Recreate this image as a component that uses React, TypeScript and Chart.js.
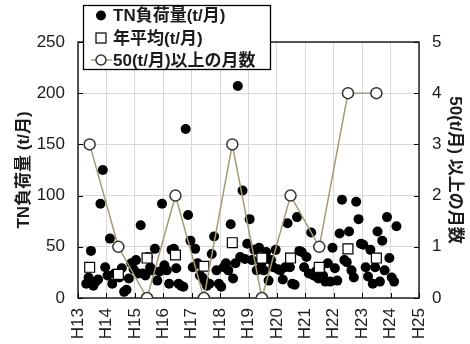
import React, { useEffect, useRef } from 'react';
import { Chart, registerables } from 'chart.js';

Chart.register(...registerables);

// ---- data ----
const fiscalYears = [13, 14, 15, 16, 17, 18, 19, 20, 21, 22, 23];
const monthIndex = [0, 1, 2, 3, 4, 5, 6, 7, 8, 9, 10, 11]; // Apr .. Mar

// monthly TN load (t/month), April..March of each fiscal year
const tnH13 = [14, 20, 46, 12, 16, 18, 92, 125, 30, 22, 58, 14];
const tnH14 = [24, 22, 20, 29, 6, 8, 19, 34, 28, 37, 24, 71];
const tnH15 = [24, 22, 40, 30, 27, 48, 17, 26, 92, 32, 27, 14];
const tnH16 = [47, 48, 29, 14, 12, 11, 165, 81, 56, 30, 48, 34];
const tnH17 = [22, 20, 17, 12, 14, 43, 60, 27, 14, 11, 30, 34];
const tnH18 = [27, 72, 19, 34, 207, 40, 105, 38, 53, 77, 37, 47];
const tnH19 = [27, 49, 34, 27, 45, 17, 37, 30, 47, 28, 27, 18];
const tnH20 = [30, 73, 30, 14, 13, 79, 46, 45, 30, 40, 24, 64];
const tnH21 = [22, 26, 19, 30, 22, 16, 34, 16, 49, 29, 17, 63];
const tnH22 = [96, 37, 35, 65, 27, 20, 94, 77, 53, 52, 30, 21];
const tnH23 = [47, 14, 30, 65, 16, 56, 27, 79, 39, 20, 16, 70];
const monthlyByYear = [tnH13, tnH14, tnH15, tnH16, tnH17, tnH18, tnH19, tnH20, tnH21, tnH22, tnH23];

// annual series
const annualX = [13.41, 14.42, 15.43, 16.43, 17.43, 18.43, 19.47, 20.48, 21.49, 22.5, 23.5];
const annualAvg = [30, 23, 39, 42, 31, 54, 39, 39, 30, 48, 39];
const monthsOver50 = [3, 1, 0, 2, 0, 3, 0, 2, 1, 4, 4];

// axis ticks
const xTickValues = [13, 14, 15, 16, 17, 18, 19, 20, 21, 22, 23, 24, 25];
const xTickLabels = ['H13', 'H14', 'H15', 'H16', 'H17', 'H18', 'H19', 'H20', 'H21', 'H22', 'H23', 'H24', 'H25'];

const legendLabels = ['TN負荷量(t/月)', '年平均(t/月)', '50(t/月)以上の月数'];
const leftTitle = 'TN負荷量 (t/月)';
const rightTitle = '50(t/月) 以上の月数';

const LATIN = "'Liberation Sans', Arial, 'Noto Sans CJK JP', sans-serif";
const TEXT = '#1c1c1c';
const LINE_COLOR = '#a39c72';

const framePlugin = {
  id: 'frame',
  beforeDatasetsDraw(chart: any) {
    const { ctx, chartArea } = chart;
    const { left, right, top, bottom } = chartArea;
    ctx.save();
    ctx.strokeStyle = '#000';
    ctx.lineWidth = 1.3;
    ctx.strokeRect(left, top, right - left, bottom - top);
    ctx.lineWidth = 1;
    const y = chart.scales.y;
    const y2 = chart.scales.y2;
    const x = chart.scales.x;
    ctx.beginPath();
    y.ticks.forEach((t: any) => {
      const p = Math.round(y.getPixelForValue(t.value)) + 0.5;
      ctx.moveTo(left, p); ctx.lineTo(left + 5, p);
    });
    y2.ticks.forEach((t: any) => {
      const p = Math.round(y2.getPixelForValue(t.value)) + 0.5;
      ctx.moveTo(right - 5, p); ctx.lineTo(right, p);
    });
    x.ticks.forEach((t: any) => {
      const p = Math.round(x.getPixelForValue(t.value)) + 0.5;
      ctx.moveTo(p, bottom); ctx.lineTo(p, bottom - 5);
    });
    ctx.stroke();
    ctx.restore();
  },
};

const legendPlugin = {
  id: 'boxLegend',
  afterDraw(chart: any) {
    const { ctx } = chart;
    ctx.save();
    const bx = 83.5, by = 5.5, bw = 187, bh = 64;
    ctx.fillStyle = '#fff';
    ctx.fillRect(bx, by, bw, bh);
    ctx.strokeStyle = '#000';
    ctx.lineWidth = 1.3;
    ctx.strokeRect(bx, by, bw, bh);
    const rows = [15.5, 38, 60];
    const mx = 101;
    // filled circle
    ctx.fillStyle = '#000';
    ctx.beginPath(); ctx.arc(mx, rows[0], 5, 0, Math.PI * 2); ctx.fill();
    // square
    ctx.fillStyle = '#fff'; ctx.strokeStyle = '#000'; ctx.lineWidth = 1.2;
    ctx.fillRect(mx - 5, rows[1] - 5, 10, 10);
    ctx.strokeRect(mx - 5, rows[1] - 5, 10, 10);
    // line + open circle
    ctx.strokeStyle = LINE_COLOR; ctx.lineWidth = 1.5;
    ctx.beginPath(); ctx.moveTo(91, rows[2]); ctx.lineTo(112, rows[2]); ctx.stroke();
    ctx.fillStyle = '#fff'; ctx.strokeStyle = '#333'; ctx.lineWidth = 1.5;
    ctx.beginPath(); ctx.arc(mx, rows[2], 5, 0, Math.PI * 2); ctx.fill(); ctx.stroke();
    // texts
    ctx.fillStyle = TEXT;
    ctx.font = `bold 17px ${LATIN}`;
    ctx.textBaseline = 'middle';
    ctx.textAlign = 'left';
    legendLabels.forEach((t, i) => ctx.fillText(t, 113, rows[i] + 1));
    ctx.restore();
  },
};

export default function App() {
  const ref = useRef<HTMLCanvasElement>(null);

  useEffect(() => {
    if (!ref.current) return;
    const monthlyPoints: { x: number; y: number }[] = [];
    fiscalYears.forEach((fy, i) => {
      monthIndex.forEach((m) => {
        monthlyPoints.push({ x: fy + 0.29 + m / 12, y: monthlyByYear[i][m] });
      });
    });
    const avgPoints = annualX.map((x, i) => ({ x, y: annualAvg[i] }));
    const countPoints = annualX.map((x, i) => ({ x, y: monthsOver50[i] }));

    const chart = new Chart(ref.current, {
      type: 'scatter',
      data: {
        datasets: [
          {
            type: 'line',
            label: legendLabels[2],
            data: countPoints,
            yAxisID: 'y2',
            showLine: true,
            borderColor: LINE_COLOR,
            borderWidth: 1.5,
            pointRadius: 5.5,
            pointBackgroundColor: '#fff',
            pointBorderColor: '#333',
            pointBorderWidth: 1.5,
            tension: 0,
          } as any,
          {
            label: legendLabels[1],
            data: avgPoints,
            yAxisID: 'y',
            pointStyle: 'rect',
            pointRadius: 7,
            pointBackgroundColor: '#fff',
            pointBorderColor: '#000',
            pointBorderWidth: 1.2,
          },
          {
            label: legendLabels[0],
            data: monthlyPoints,
            yAxisID: 'y',
            pointRadius: 5,
            pointBackgroundColor: '#000',
            pointBorderColor: '#000',
            pointBorderWidth: 0,
          },
        ],
      },
      options: {
        responsive: false,
        animation: false,
        events: [],
        layout: { padding: { top: 42, left: 0, right: 0, bottom: 0 } },
        plugins: { legend: { display: false }, tooltip: { enabled: false } },
        scales: {
          x: {
            type: 'linear',
            min: 13,
            max: 25,
            afterBuildTicks: (s: any) => { s.ticks = xTickValues.map((v) => ({ value: v })); },
            afterFit: (s: any) => { s.height = 46; },
            grid: { color: '#d9d9d9', lineWidth: 1, drawTicks: false },
            border: { display: false },
            ticks: {
              autoSkip: false,
              minRotation: 90,
              maxRotation: 90,
              padding: 10,
              color: TEXT,
              font: { family: LATIN, size: 17 },
              callback: (v: any) => xTickLabels[xTickValues.indexOf(Number(v))] ?? '',
            },
          },
          y: {
            position: 'left',
            min: 0,
            max: 250,
            afterFit: (s: any) => { s.width = 78; },
            grid: { color: '#d9d9d9', lineWidth: 1, drawTicks: false },
            border: { display: false },
            ticks: { stepSize: 50, padding: 13, color: TEXT, font: { family: LATIN, size: 17 } },
            title: {
              display: true,
              text: leftTitle,
              color: TEXT,
              padding: { top: 14, bottom: 0 },
              font: { family: LATIN, size: 17, weight: 'bold' },
            },
          },
          y2: {
            position: 'right',
            min: 0,
            max: 5,
            afterFit: (s: any) => { s.width = 51; },
            grid: { drawOnChartArea: false, drawTicks: false },
            border: { display: false },
            ticks: { stepSize: 1, padding: 13, color: TEXT, font: { family: LATIN, size: 17 } },
            title: {
              display: true,
              text: rightTitle,
              color: TEXT,
              padding: { top: 5, bottom: 0 },
              font: { family: LATIN, size: 17, weight: 'bold' },
            },
          },
        },
      },
      plugins: [framePlugin, legendPlugin],
    });
    return () => chart.destroy();
  }, []);

  return (
    <div style={{ position: 'fixed', left: 0, top: 0, width: 470, height: 344, background: '#fff' }}>
      <canvas ref={ref} width={470} height={344} style={{ width: 470, height: 344, display: 'block' }} />
    </div>
  );
}
